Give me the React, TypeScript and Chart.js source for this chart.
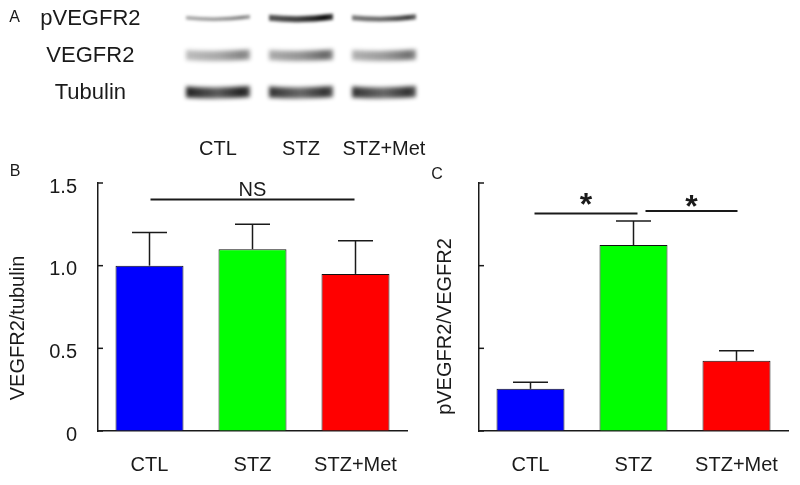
import React, { useEffect, useRef } from 'react';
import { Chart, registerables } from 'chart.js';

Chart.register(...registerables);

const FONT = '"Liberation Sans", Arial, Helvetica, sans-serif';
const INK = '#1a1a1a';

// ---- data ----
const groups = ['CTL', 'STZ', 'STZ+Met'];
const blotRows = ['pVEGFR2', 'VEGFR2', 'Tubulin'];
// band darkness (0..1) per lane
const pVegfrBand = [0.55, 1.0, 0.8];
const vegfrBand = [0.5, 0.62, 0.58];
const tubulinBand = [0.95, 0.88, 0.88];

const vegfrTubulin = [1.0, 1.1, 0.95];
const vegfrTubulinErr = [0.2, 0.15, 0.2];
const yTicksB = [0, 0.5, 1.0, 1.5];
const yTickLabelsB = ['0', '0.5', '1.0', '1.5'];
const sigPairsB = [[0, 2]];
const sigLineYB = [1.4];
const sigLabelB = ['NS'];

const pVegfrRatio = [0.51, 2.25, 0.85];
const pVegfrRatioErr = [0.08, 0.29, 0.12];
const yTicksC = [0, 1, 2, 3];
const sigPairsC = [[0, 1], [1, 2]];
const sigLineYC = [2.63, 2.66];
const sigLabelC = ['*', '*'];

const barColors = ['#0000ff', '#00ff00', '#ff0000'];

// ---- helpers ----
function textAt(ctx: CanvasRenderingContext2D, s: string, x: number, cy: number, font: string, rot = 0) {
  ctx.save();
  ctx.font = font;
  ctx.fillStyle = INK;
  ctx.textAlign = 'center';
  ctx.textBaseline = 'alphabetic';
  const m = ctx.measureText(s);
  const off = (m.actualBoundingBoxAscent - m.actualBoundingBoxDescent) / 2;
  ctx.translate(x, cy);
  ctx.rotate(rot);
  ctx.fillText(s, 0, off);
  ctx.restore();
}

function line(ctx: CanvasRenderingContext2D, x0: number, y0: number, x1: number, y1: number, w = 1.5) {
  ctx.save();
  ctx.strokeStyle = INK;
  ctx.lineWidth = w;
  ctx.beginPath();
  ctx.moveTo(x0, y0);
  ctx.lineTo(x1, y1);
  ctx.stroke();
  ctx.restore();
}

function drawBand(ctx: CanvasRenderingContext2D, cx: number, cy: number, w: number, h: number, d: number, grad: number[], sag: number, blur: number) {
  ctx.save();
  ctx.filter = `blur(${blur}px)`;
  const x0 = cx - w / 2, x1 = cx + w / 2;
  const g = ctx.createLinearGradient(x0, 0, x1, 0);
  g.addColorStop(0, `rgba(10,10,10,${Math.min(1, d * grad[0])})`);
  g.addColorStop(0.5, `rgba(10,10,10,${Math.min(1, d * grad[1])})`);
  g.addColorStop(0.88, `rgba(10,10,10,${Math.min(1, d * grad[2])})`);
  g.addColorStop(1, `rgba(10,10,10,${Math.min(1, d * grad[2] * 0.8)})`);
  ctx.fillStyle = g;
  ctx.beginPath();
  ctx.moveTo(x0, cy - h / 2 - sag * 0.3);
  ctx.quadraticCurveTo(cx, cy - h / 2 + sag, x1, cy - h / 2 - sag * 0.7);
  ctx.lineTo(x1, cy + h / 2 - sag * 0.7);
  ctx.quadraticCurveTo(cx, cy + h / 2 + sag, x0, cy + h / 2 - sag * 0.3);
  ctx.closePath();
  ctx.fill();
  ctx.restore();
}

function zeroPad(s: any) {
  s.paddingTop = 0;
  s.paddingBottom = 0;
  s.paddingLeft = 0;
  s.paddingRight = 0;
}

type PanelCfg = {
  values: number[];
  errs: number[];
  ticks: number[];
  tickLabels: string[] | null;
  max: number;
  padding: { left: number; right: number; top: number; bottom: number };
  yWidth: number;
  xHeight: number;
  letter: string;
  letterPos: [number, number];
  title: string;
  titlePos: [number, number];
  sigPairs: number[][];
  sigY: number[];
  sigLabels: string[];
  sigInsets: number[][];
  sigFont: string;
  sigTextGap: number[];
};

function makeBarChart(canvas: HTMLCanvasElement, cfg: PanelCfg) {
  const overlay = {
    id: 'overlay',
    afterDraw(chart: any) {
      const ctx = chart.ctx as CanvasRenderingContext2D;
      const xs = chart.scales.x;
      const ys = chart.scales.y;
      const area = chart.chartArea;
      // inward ticks
      cfg.ticks.forEach((v) => {
        const py = ys.getPixelForValue(v);
        line(ctx, area.left, py, area.left + 5, py, 1.5);
      });
      // error bars
      cfg.values.forEach((v, i) => {
        const px = xs.getPixelForValue(i);
        const yTop = ys.getPixelForValue(v);
        const yCap = ys.getPixelForValue(v + cfg.errs[i]);
        line(ctx, px, yTop, px, yCap, 1.5);
        line(ctx, px - 17.5, yCap, px + 17.5, yCap, 1.5);
      });
      // significance
      cfg.sigPairs.forEach(([a, b], k) => {
        const x0 = xs.getPixelForValue(a) + cfg.sigInsets[k][0];
        const x1 = xs.getPixelForValue(b) + cfg.sigInsets[k][1];
        const py = ys.getPixelForValue(cfg.sigY[k]);
        line(ctx, x0, py, x1, py, 2);
        textAt(ctx, cfg.sigLabels[k], (x0 + x1) / 2, py - cfg.sigTextGap[k], cfg.sigFont);
      });
      // panel letter and axis title
      textAt(ctx, cfg.letter, cfg.letterPos[0], cfg.letterPos[1], `16px ${FONT}`);
      textAt(ctx, cfg.title, cfg.titlePos[0], cfg.titlePos[1], `20px ${FONT}`, -Math.PI / 2);
    },
  };

  return new Chart(canvas, {
    type: 'bar',
    data: {
      labels: groups,
      datasets: [
        {
          data: cfg.values,
          backgroundColor: barColors,
          borderColor: '#111',
          borderWidth: 1,
          barPercentage: 0.66,
          categoryPercentage: 1,
        },
      ],
    },
    options: {
      animation: false,
      responsive: false,
      maintainAspectRatio: false,
      layout: { padding: cfg.padding },
      plugins: { legend: { display: false }, tooltip: { enabled: false } },
      scales: {
        x: {
          grid: { display: true, drawOnChartArea: false, drawTicks: false },
          border: { display: true, color: INK, width: 1.5 },
          ticks: { font: { family: FONT, size: 20 }, color: INK, padding: 22, maxRotation: 0, autoSkip: false },
          afterFit: (s: any) => {
            s.height = cfg.xHeight;
            zeroPad(s);
          },
        },
        y: {
          min: 0,
          max: cfg.max,
          afterBuildTicks: (s: any) => {
            s.ticks = cfg.ticks.map((v) => ({ value: v }));
          },
          grid: { display: true, drawOnChartArea: false, drawTicks: false },
          border: { display: true, color: INK, width: 1.5 },
          ticks: {
            display: !!cfg.tickLabels,
            font: { family: FONT, size: 20 },
            color: INK,
            padding: 21,
            labelOffset: 4,
            callback: (v: any) => {
              const i = cfg.ticks.indexOf(Number(v));
              return cfg.tickLabels && i >= 0 ? cfg.tickLabels[i] : '';
            },
          },
          afterFit: (s: any) => {
            s.width = cfg.yWidth;
            zeroPad(s);
          },
        },
      },
    },
    plugins: [overlay],
  } as any);
}

function makeBlotChart(canvas: HTMLCanvasElement) {
  const bands = [pVegfrBand, vegfrBand, tubulinBand];
  const grads = [
    [0.7, 0.8, 1.0],
    [0.55, 0.7, 1.0],
    [0.95, 0.7, 0.95],
  ];
  const blot = {
    id: 'blot',
    afterDraw(chart: any) {
      const ctx = chart.ctx as CanvasRenderingContext2D;
      const xs = chart.scales.x;
      const ys = chart.scales.y;
      const laneW = (xs.right - xs.left) / groups.length;
      bands.forEach((row, r) => {
        const cy = ys.getPixelForValue(r);
        row.forEach((d, l) => {
          const cx = xs.getPixelForValue(l);
          const h = r === 0 ? 0.5 + 5.5 * d : r === 1 ? 10 : 11;
          const sag = r === 0 ? 2.5 : 1.5;
          const blur = r === 0 ? 1.4 : 2.3;
          drawBand(ctx, cx, cy, laneW * 0.77, h, d, grads[r], sag, blur);
        });
      });
      textAt(ctx, 'A', 14.5, 15.5, `16px ${FONT}`);
    },
  };
  return new Chart(canvas, {
    type: 'bar',
    data: { labels: groups, datasets: [] },
    options: {
      animation: false,
      responsive: false,
      maintainAspectRatio: false,
      layout: { padding: { left: 0, right: 14.5, top: 0, bottom: 0 } },
      plugins: { legend: { display: false }, tooltip: { enabled: false } },
      scales: {
        x: {
          type: 'category',
          labels: groups,
          offset: true,
          grid: { display: false },
          border: { display: false },
          ticks: { font: { family: FONT, size: 20 }, color: INK, padding: 18, maxRotation: 0, minRotation: 0, autoSkip: false },
          afterFit: (s: any) => {
            s.height = 59;
            zeroPad(s);
          },
        },
        y: {
          type: 'category',
          labels: blotRows,
          offset: true,
          grid: { display: false },
          border: { display: false },
          ticks: { font: { family: FONT, size: 22 }, color: INK, padding: 28, crossAlign: 'center', autoSkip: false },
          afterFit: (s: any) => {
            s.width = 176.5;
            zeroPad(s);
          },
        },
      },
    },
    plugins: [blot],
  } as any);
}

export default function App() {
  const blotRef = useRef<HTMLCanvasElement>(null);
  const bRef = useRef<HTMLCanvasElement>(null);
  const cRef = useRef<HTMLCanvasElement>(null);

  useEffect(() => {
    const charts: Chart[] = [];
    if (blotRef.current) charts.push(makeBlotChart(blotRef.current));
    if (bRef.current)
      charts.push(
        makeBarChart(bRef.current, {
          values: vegfrTubulin,
          errs: vegfrTubulinErr,
          ticks: yTicksB,
          tickLabels: yTickLabelsB,
          max: 1.5,
          padding: { left: 0, right: 3, top: 23, bottom: 0 },
          yWidth: 98,
          xHeight: 54,
          letter: 'B',
          letterPos: [15, 10],
          title: 'VEGFR2/tubulin',
          titlePos: [16, 168],
          sigPairs: sigPairsB,
          sigY: sigLineYB,
          sigLabels: sigLabelB,
          sigInsets: [[1, -1]],
          sigFont: `20px ${FONT}`,
          sigTextGap: [11],
        })
      );
    if (cRef.current)
      charts.push(
        makeBarChart(cRef.current, {
          values: pVegfrRatio,
          errs: pVegfrRatioErr,
          ticks: yTicksC,
          tickLabels: null,
          max: 3,
          padding: { left: 0, right: 12, top: 23, bottom: 0 },
          yWidth: 69,
          xHeight: 54,
          letter: 'C',
          letterPos: [27, 13],
          title: 'pVEGFR2/VEGFR2',
          titlePos: [35, 166.5],
          sigPairs: sigPairsC,
          sigY: sigLineYC,
          sigLabels: sigLabelC,
          sigInsets: [[4, 4], [12, 1]],
          sigFont: `bold 32px ${FONT}`,
          sigTextGap: [15, 10],
        })
      );
    return () => charts.forEach((c) => c.destroy());
  }, []);

  return (
    <div style={{ position: 'absolute', left: 0, top: 0, width: 800, height: 485, background: '#fff' }}>
      <canvas ref={blotRef} width={440} height={170} style={{ position: 'absolute', left: 0, top: 0, width: 440, height: 170 }} />
      <canvas ref={bRef} width={410} height={325} style={{ position: 'absolute', left: 0, top: 160, width: 410, height: 325 }} />
      <canvas ref={cRef} width={390} height={325} style={{ position: 'absolute', left: 410, top: 160, width: 390, height: 325 }} />
    </div>
  );
}
